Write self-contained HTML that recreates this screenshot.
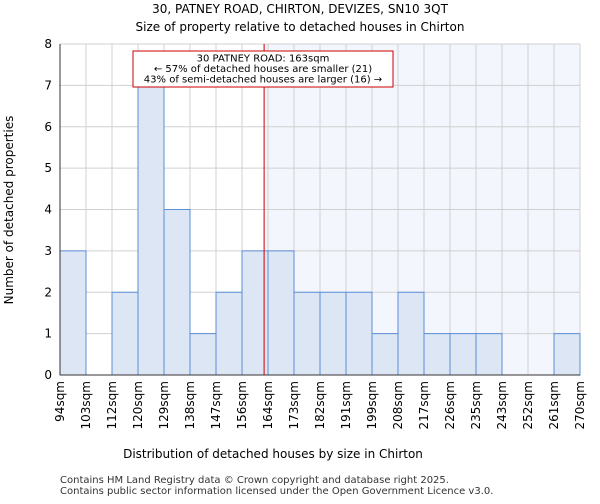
<!DOCTYPE html>
<html><head><meta charset="utf-8"><style>
body{margin:0;background:#fff;font-family:"DejaVu Sans","Liberation Sans",sans-serif}
</style></head><body>
<svg id="c" width="600" height="500" xmlns="http://www.w3.org/2000/svg" font-family="DejaVu Sans, Liberation Sans, sans-serif">
<text x="300" y="13" font-size="12" text-anchor="middle">30, PATNEY ROAD, CHIRTON, DEVIZES, SN10 3QT</text>
<text x="300" y="31" font-size="12" text-anchor="middle">Size of property relative to detached houses in Chirton</text>
<g id="plot"></g>
<text x="273" y="458" font-size="12" text-anchor="middle">Distribution of detached houses by size in Chirton</text>
<text transform="translate(13,210) rotate(-90)" font-size="12" text-anchor="middle">Number of detached properties</text>
<text x="60" y="483" font-size="10" fill="#333">Contains HM Land Registry data © Crown copyright and database right 2025.</text>
<text x="60" y="494" font-size="10" fill="#333">Contains public sector information licensed under the Open Government Licence v3.0.</text>
</svg>
<script>
const categories=["94sqm","103sqm","112sqm","120sqm","129sqm","138sqm","147sqm","156sqm","164sqm","173sqm","182sqm","191sqm","199sqm","208sqm","217sqm","226sqm","235sqm","243sqm","252sqm","261sqm","270sqm"];
const counts=[3,0,2,7,4,1,2,3,3,2,2,2,1,2,1,1,1,0,0,1];
const yTicks=[0,1,2,3,4,5,6,7,8];
const markerIndex=7.85;
const NS="http://www.w3.org/2000/svg";
const L=60,R=580,T=44,B=375,n=counts.length;
const x=i=>L+(R-L)*i/n;
const y=v=>B-(B-T)*v/8;
const g=document.getElementById('plot');
function mk(t,a){const e=document.createElementNS(NS,t);for(const k in a)e.setAttribute(k,a[k]);g.appendChild(e);return e;}
const hl=mk('rect',{x:x(markerIndex),y:T,width:R-x(markerIndex),height:B-T,fill:'#f4f6fd'});


for(const v of yTicks){const l=mk('line',{x1:L,x2:R,y1:y(v),y2:y(v),stroke:'#d0d0d0'});


const t=mk('text',{x:L-8,y:y(v)+4,'font-size':12,'text-anchor':'end'});t.textContent=v;

}
for(let i=0;i<=n;i++){const l=mk('line',{x1:x(i),x2:x(i),y1:T,y2:B,stroke:'#d0d0d0'});

}
counts.forEach((c,i)=>{if(!c)return;const r=mk('rect',{x:x(i),y:y(c),width:x(1)-x(0),height:B-y(c),fill:'#dce6f4',stroke:'#5b8fd6','stroke-width':1});

});
categories.forEach((c,i)=>{const t=mk('text',{transform:`translate(${x(i)+4},${B+6}) rotate(-90)`,'font-size':12,'text-anchor':'end'});t.textContent=c;

});
const ax=mk('line',{x1:L,x2:R,y1:B,y2:B,stroke:'#333'});


const ay=mk('line',{x1:L,x2:L,y1:T,y2:B,stroke:'#333'});


const ml=mk('line',{x1:x(markerIndex),x2:x(markerIndex),y1:T,y2:B,stroke:'#cc0000','stroke-width':1});


const box=mk('rect',{x:133,y:51,width:260,height:36,fill:'#fff',stroke:'#cc0000'});


["30 PATNEY ROAD: 163sqm","← 57% of detached houses are smaller (21)","43% of semi-detached houses are larger (16) →"].forEach((s,i)=>{const t=mk('text',{x:263,y:61.5+i*10.5,'font-size':10,'text-anchor':'middle'});t.textContent=s;

});
</script>
</body></html>
